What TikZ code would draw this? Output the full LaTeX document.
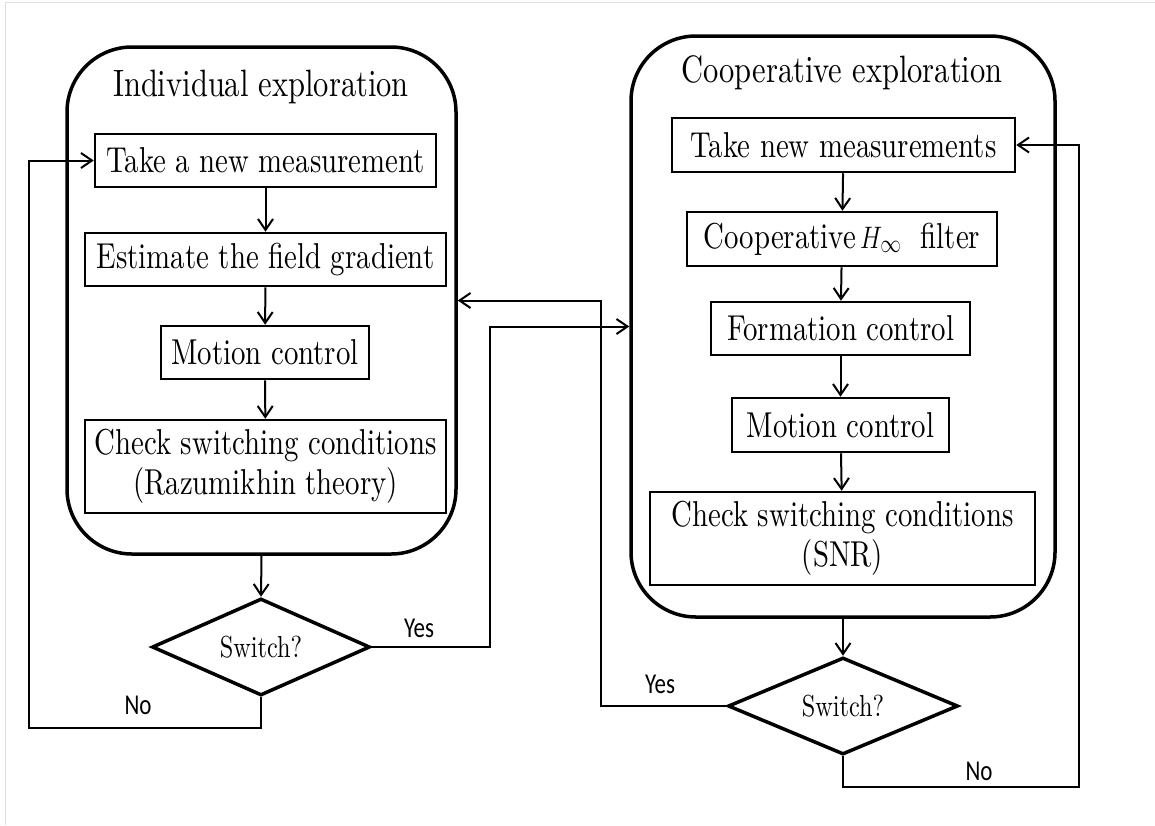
\documentclass[tikz,border=0pt]{standalone}
\usepackage{fontspec}
\setmainfont{lmroman10-regular}[Extension=.otf]
\newfontfamily\labfont{Carlito}
\usetikzlibrary{arrows.meta,shapes.geometric}
\newcommand{\vstr}[1]{\scalebox{1}[1.25]{#1}}
\begin{document}
\begin{tikzpicture}[x=1pt,y=-1pt,
  container/.style={draw, line width=3.5pt, rounded corners=65pt, inner sep=0pt},
  title/.style={inner sep=0pt, anchor=base, font=\fontsize{30.5}{34}\selectfont},
  stepbox/.style={draw, line width=2.5pt, inner sep=0pt, align=center, font=\fontsize{28.8}{32}\selectfont},
  decision/.style={draw, diamond, aspect=2.3, line width=3.5pt, inner sep=0pt, font=\fontsize{24.3}{28}\selectfont},
  conn/.style={line width=2pt},
  arr/.style={conn, -{Straight Barb[length=11pt,width=15pt,line width=2pt]}},
  lab/.style={inner sep=0pt, anchor=base, font=\labfont\fontsize{23}{26}\selectfont},
  frame/.style={draw=black!12, line width=1pt}
]
\useasboundingbox (0,0) rectangle (1155,825);
\fill[white] (0,0) rectangle (1155,825);
\draw[frame] (5.5,825) -- (5.5,2.5) -- (1155,2.5);

% containers
\node[container, minimum width=389pt, minimum height=507pt] (lc) at (261.5,300.5) {};
\node[container, minimum width=424pt, minimum height=581pt] (rc) at (843,326.5) {};
\node[title] (lt) at (261,96) {\vstr{Individual exploration}};
\node[title] (rt) at (842,82) {\vstr{Cooperative exploration}};

% left steps
\node[stepbox, minimum width=341pt, minimum height=53pt] (b1) at (265.5,160.5) {\vstr{Take a new measurement}};
\node[stepbox, minimum width=361pt, minimum height=53pt] (b2) at (265.5,259.5) {\vstr{Estimate the field gradient}};
\node[stepbox, minimum width=208pt, minimum height=53pt] (b3) at (265,352.5) {\vstr{Motion control}};
\node[stepbox, minimum width=361pt, minimum height=93pt] (b4) at (265.5,466.5) {\vstr{\begin{tabular}{@{}c@{}}Check switching conditions\\(Razumikhin theory)\end{tabular}}};

% right steps
\node[stepbox, minimum width=343pt, minimum height=54pt] (r1) at (843.5,145) {\vstr{Take new measurements}};
\node[stepbox, minimum width=310pt, minimum height=54pt] (r2) at (842,239) {\vstr{Cooperative$\,H_\infty$\ \ filter}};
\node[stepbox, minimum width=259pt, minimum height=53pt] (r3) at (840.5,328.5) {\vstr{Formation control}};
\node[stepbox, minimum width=217pt, minimum height=54pt] (r4) at (840.5,425) {\vstr{Motion control}};
\node[stepbox, minimum width=385pt, minimum height=93pt] (r5) at (842.5,538.5) {\vstr{\begin{tabular}{@{}c@{}}Check switching conditions\\(SNR)\end{tabular}}};

% decisions
\node[decision, minimum width=218pt, minimum height=97pt] (d1) at (261,647) {\vstr{Switch?}};
\node[decision, minimum width=230pt, minimum height=97pt] (d2) at (843,706) {\vstr{Switch?}};

% helper coordinates
\coordinate (ya) at (490,326.5);
\coordinate (yb) at (601,300.5);
\coordinate (na) at (29,728);
\coordinate (nb) at (1079,787);

% vertical flow
\draw[arr] (b1) -- (b2);
\draw[arr] (b2) -- (b3);
\draw[arr] (b3) -- (b4);
\draw[arr] (lc.south) -- (d1.north);
\draw[arr] (r1) -- (r2);
\draw[arr] (r2) -- (r3);
\draw[arr] (r3) -- (r4);
\draw[arr] (r4) -- (r5);
\draw[arr] (rc.south) -- (d2.north);

% switching connectors
\draw[arr] (d1.east) -| (ya) -- (rc.west);
\draw[arr] (d2.west) -| (yb) -- (lc.east);
\draw[arr] (d1.south) |- (na) |- (b1.west);
\draw[arr] (d2.south) |- (nb) |- (r1.east);

% labels
\node[lab] (ly1) at (419,637) {\vstr{Yes}};
\node[lab] (ln1) at (138,714) {\vstr{No}};
\node[lab] (ly2) at (660,693) {\vstr{Yes}};
\node[lab] (ln2) at (979,780) {\vstr{No}};
\end{tikzpicture}
\end{document}
